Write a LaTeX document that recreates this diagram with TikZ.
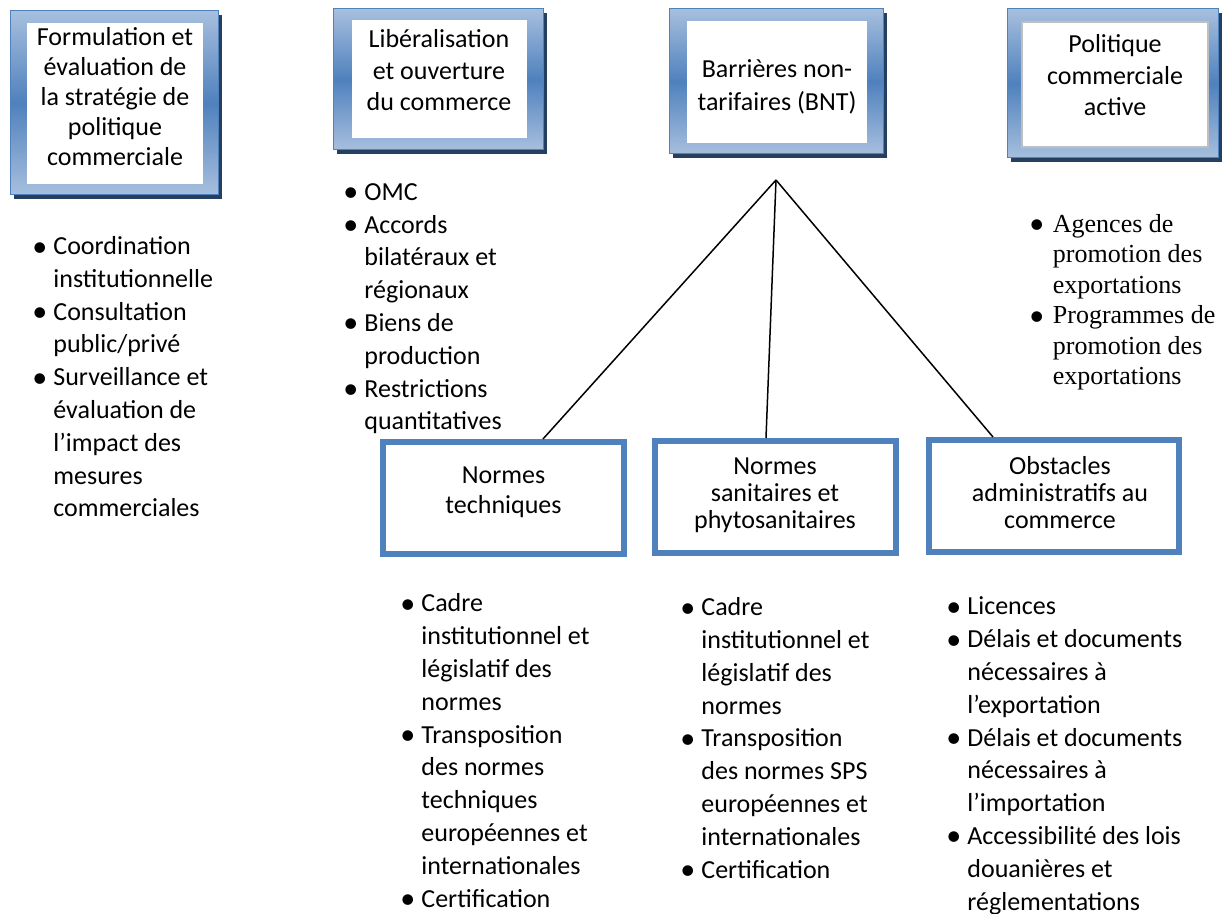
\documentclass[tikz,border=0pt]{standalone}
\usepackage{fontspec}
\setmainfont{Carlito}
\newfontfamily\timesfont{Liberation Serif}
\usepackage{xcolor}
\usepackage{tikz}
\usetikzlibrary{shadows}

\definecolor{bleu}{HTML}{4F81BD}
\definecolor{bleuclair}{HTML}{A7BFDE}
\definecolor{ombre}{HTML}{243F60}
\definecolor{grisbord}{HTML}{BFBFBF}

\tikzstyle{cadre} = [draw=bleu, line width=0.5pt, top color=bleuclair, bottom color=bleuclair, middle color=bleu,
  drop shadow={shadow xshift=2pt, shadow yshift=-2pt, fill=ombre, opacity=1}]
\tikzstyle{fenetre} = [fill=white, inner sep=0pt]
\tikzstyle{titre} = [align=center, inner sep=0pt, anchor=base]
\tikzstyle{norme} = [draw=bleu, line width=3pt, fill=white, inner sep=0pt, minimum height=56pt]
\tikzstyle{liste} = [align=left, inner sep=0pt, anchor=base west, font=\fontsize{13}{16.4}\selectfont]
\tikzstyle{branche} = [line width=0.75pt]

% puce et retrait des listes (base = derniere ligne)
\newcommand{\puce}[1][8.5pt]{\makebox[#1][l]{\hspace*{-2pt}\raisebox{-0.7pt}{\rmfamily\fontsize{15}{15}\selectfont\textbullet}}}
\newcommand{\suite}[1][8.5pt]{\hspace*{#1}}

\begin{document}
\begin{tikzpicture}[x=0.5pt, y=-0.5pt]
\useasboundingbox (0,0) rectangle (1222,914);

% cadres du haut
\node[cadre, minimum width=104pt, minimum height=92pt] (formul) at (114,103) {};
\node[fenetre, minimum width=88pt, minimum height=80.5pt] (formulin) at (115,103.5) {};
\node[titre, font=\fontsize{13}{15}\selectfont] (formult) at (115,166)
  {Formulation et\\évaluation de\\la stratégie de\\politique\\commerciale};

\node[cadre, minimum width=105pt, minimum height=70.5pt] (liber) at (438,79.5) {};
\node[fenetre, minimum width=87.5pt, minimum height=59pt] (liberin) at (439.5,79) {};
\node[titre, font=\fontsize{13}{15.8}\selectfont] (libert) at (439,111)
  {Libéralisation\\et ouverture\\du commerce};

\node[cadre, minimum width=107pt, minimum height=72.5pt] (bnt) at (776,81.5) {};
\node[fenetre, minimum width=90pt, minimum height=61pt] (bntin) at (777,82) {};
\node[titre, font=\fontsize{13}{16.5}\selectfont] (bntt) at (777,111)
  {Barrières non-\\tarifaires (BNT)};

\node[cadre, minimum width=105.5pt, minimum height=74.5pt] (polit) at (1112.5,83.5) {};
\node[fenetre, draw=grisbord, line width=1pt, minimum width=93pt, minimum height=62.5pt] (politin) at (1115,84.5) {};
\node[titre, font=\fontsize{13}{15.8}\selectfont] (politt) at (1115,116)
  {Politique\\commerciale\\active};

% listes du haut
\node[liste] (l1) at (36,517) {\puce Coordination\\\suite institutionnelle\\\puce Consultation\\\suite public/privé\\
  \puce Surveillance et\\\suite évaluation de\\\suite l’impact des\\\suite mesures\\\suite commerciales};
\node[liste] (l2) at (347,430) {\puce OMC\\\puce Accords\\\suite bilatéraux et\\\suite régionaux\\
  \puce Biens de\\\suite production\\\puce Restrictions\\\suite quantitatives};
\node[liste, font=\timesfont\fontsize{13}{15.25}\selectfont] (l3) at (1033,385)
  {\puce[6.5pt] Agences de\\\suite[6.5pt] promotion des\\\suite[6.5pt] exportations\\
  \puce[6.5pt] Programmes de\\\suite[6.5pt] promotion des\\\suite[6.5pt] exportations};

% cadres du bas
\node[norme, minimum width=120.5pt] (tech) at (503.5,498) {};
\node[titre, font=\fontsize{13}{15}\selectfont] (techt) at (503.5,514) {Normes\\techniques};
\node[norme, minimum width=120.5pt] (sps) at (775.5,497) {};
\node[titre, font=\fontsize{13}{13.5}\selectfont] (spst) at (775,529) {Normes\\sanitaires et\\phytosanitaires};
\node[norme, minimum width=125pt] (obst) at (1054,496) {};
\node[titre, font=\fontsize{13}{13.5}\selectfont] (obstt) at (1060,529) {Obstacles\\administratifs au\\commerce};

% branches
\coordinate (sommet) at (776,180);
\draw[branche] (sommet) -- ([xshift=19.75pt]tech.north);
\draw[branche] (sommet) -- ([xshift=-4.75pt]sps.north);
\draw[branche] (sommet) -- ([xshift=-30.5pt]obst.north);

% listes du bas
\node[liste] (l4) at (404,907) {\puce Cadre\\\suite institutionnel et\\\suite législatif des\\\suite normes\\
  \puce Transposition\\\suite des normes\\\suite techniques\\\suite européennes et\\\suite internationales\\\puce Certification};
\node[liste] (l5) at (684,878) {\puce Cadre\\\suite institutionnel et\\\suite législatif des\\\suite normes\\
  \puce Transposition\\\suite des normes SPS\\\suite européennes et\\\suite internationales\\\puce Certification};
\node[liste] (l6) at (950,910) {\puce Licences\\\puce Délais et documents\\\suite nécessaires à\\\suite l’exportation\\
  \puce Délais et documents\\\suite nécessaires à\\\suite l’importation\\\puce Accessibilité des lois\\\suite douanières et\\\suite réglementations};
\end{tikzpicture}
\end{document}
